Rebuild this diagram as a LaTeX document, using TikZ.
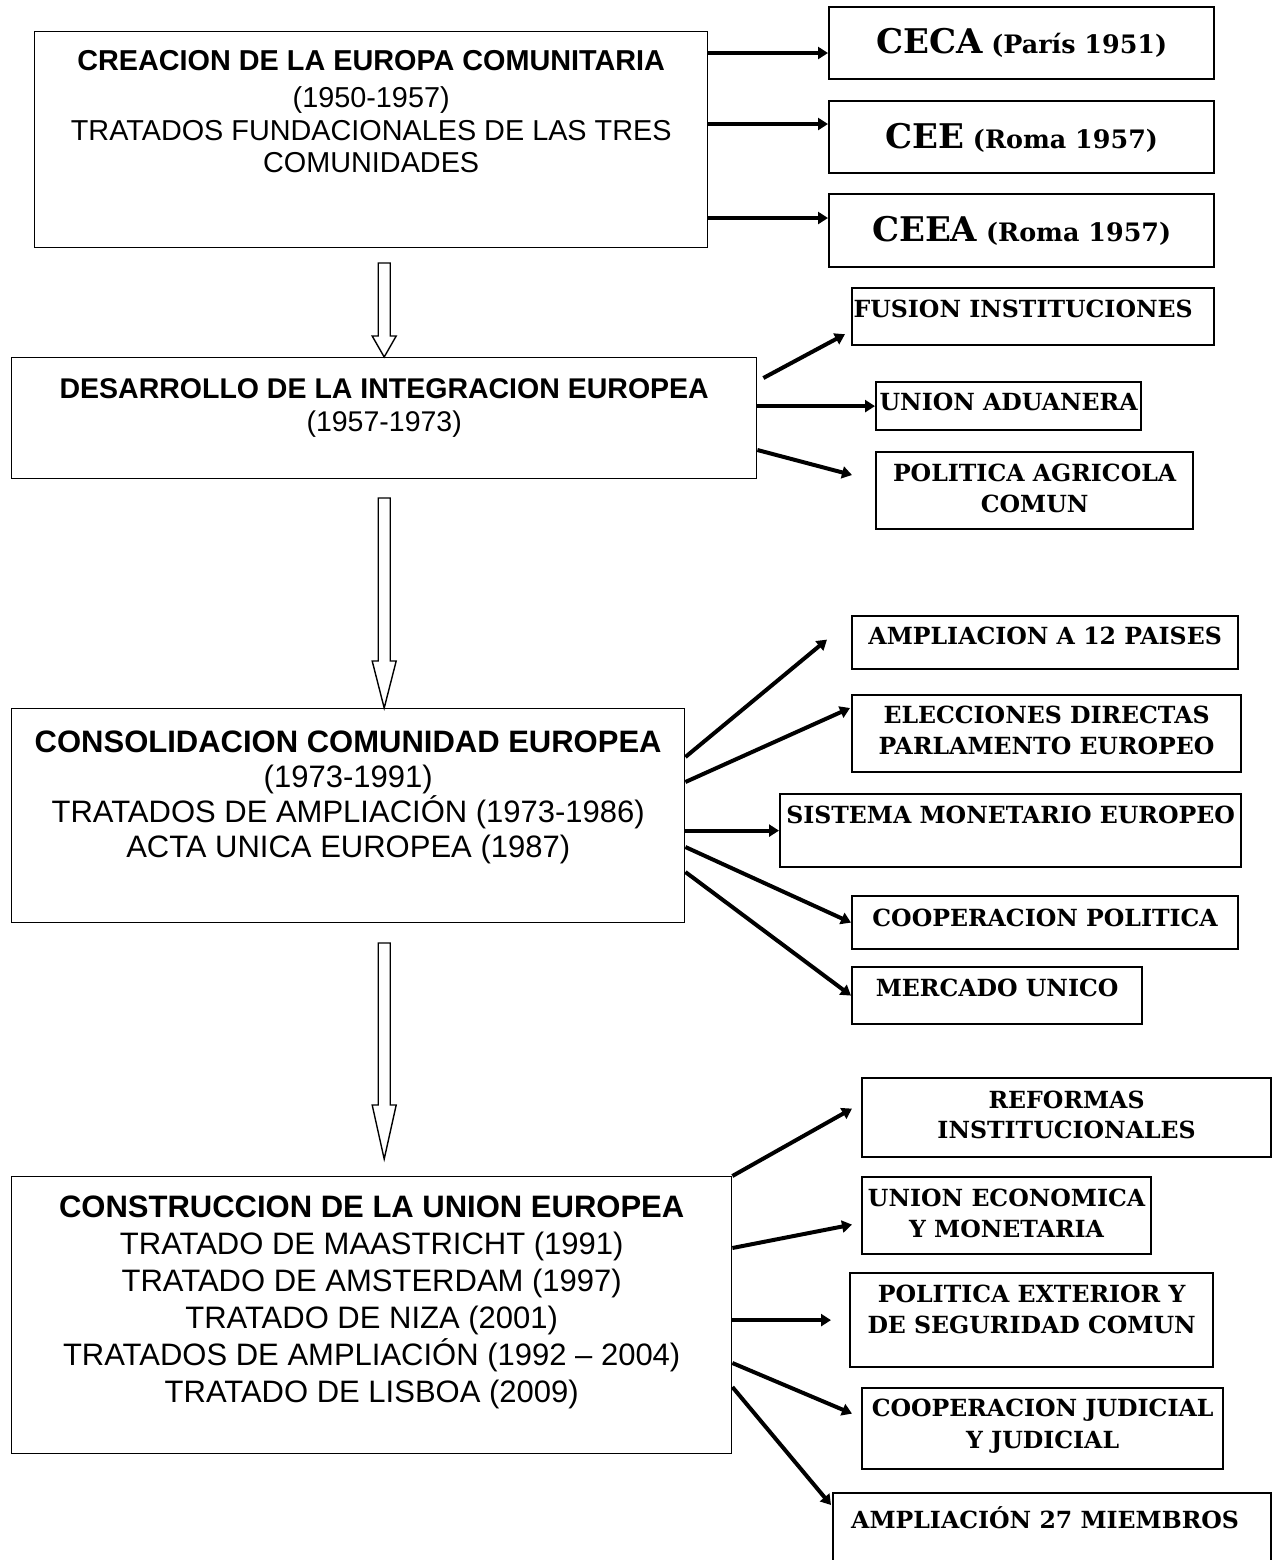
\documentclass[tikz,border=0pt]{standalone}
\usepackage{fontspec}
\setmainfont{DejaVu Serif}
\setsansfont{Liberation Sans}
\usetikzlibrary{arrows.meta,calc,positioning}
\tikzset{caja/.style={draw,line width=0.7pt,inner sep=0pt,anchor=north west},
         etapa/.style={caja,font=\sffamily\fontsize{14.4}{16.2}\selectfont},
         hito/.style={caja,line width=1.1pt,font=\bfseries\fontsize{11.8}{15.5}\selectfont},
         flecha/.style={line width=2pt,-{Triangle[length=5pt,width=6pt]}},
         bloque/.style={line width=0.7pt,fill=white}}
% ancho, alto, linea base de la primera fila, texto
\newcommand{\cajatexto}[4]{\parbox[c][#2][t]{#1}{\lineskiplimit=-20pt\vspace*{\dimexpr #3-13pt\relax}\centering\rule{0pt}{13pt}#4}}
% punta, largo del cuerpo, largo de la punta
\newcommand{\flechavacia}[3]{\draw[bloque] ($(#1)+(-6,-#2-#3)$) -- ($(#1)+(-6,-#3)$) -- ($(#1)+(-12,-#3)$) -- (#1) -- ($(#1)+(12,-#3)$) -- ($(#1)+(6,-#3)$) -- ($(#1)+(6,-#2-#3)$) -- cycle;}

\begin{document}
\begin{tikzpicture}[x=0.5pt,y=-0.5pt]
            \useasboundingbox (0,0) rectangle (1280,1560);
            \fill[white] (0,0) rectangle (1280,1560);

            % etapas
            \node[etapa] (creacion) at (34,31) {\cajatexto{336.5pt}{108pt}{19.5pt}{\textbf{CREACION DE LA EUROPA COMUNITARIA}\\[2.3pt] (1950-1957)\\ TRATADOS FUNDACIONALES DE LAS TRES\\ COMUNIDADES}};
            \node[etapa,font=\sffamily\fontsize{14.25}{16.5}\selectfont] (desarrollo) at (11,357) {\cajatexto{372.5pt}{60.5pt}{20.5pt}{\textbf{DESARROLLO DE LA INTEGRACION EUROPEA}\\ (1957-1973)}};
            \node[etapa,font=\sffamily\fontsize{15.5}{17.5}\selectfont] (consolidacion) at (11,708) {\cajatexto{336.5pt}{107pt}{22pt}{\textbf{CONSOLIDACION COMUNIDAD EUROPEA}\\ (1973-1991)\\ TRATADOS DE AMPLIACIÓN (1973-1986)\\ ACTA UNICA EUROPEA (1987)}};
            \node[etapa,font=\sffamily\fontsize{15.5}{18.5}\selectfont] (construccion) at (11,1176) {\cajatexto{360pt}{138.5pt}{20.5pt}{\textbf{CONSTRUCCION DE LA UNION EUROPEA}\\ TRATADO DE MAASTRICHT (1991)\\ TRATADO DE AMSTERDAM (1997)\\ TRATADO DE NIZA (2001)\\ TRATADOS DE AMPLIACIÓN (1992 – 2004)\\ TRATADO DE LISBOA (2009)}};

            % hitos
            \node[hito,font=\bfseries\fontsize{12.7}{15}\selectfont] (ceca) at (828,6) {\cajatexto{192.5pt}{36pt}{23pt}{{\fontsize{17}{18}\selectfont CECA} (París 1951)}};
            \node[hito,font=\bfseries\fontsize{12.7}{15}\selectfont] (cee) at (828,100) {\cajatexto{192.5pt}{36pt}{23.5pt}{{\fontsize{17}{18}\selectfont CEE} (Roma 1957)}};
            \node[hito,font=\bfseries\fontsize{12.7}{15}\selectfont] (ceea) at (828,193) {\cajatexto{192.5pt}{36.5pt}{23.5pt}{{\fontsize{17}{18}\selectfont CEEA} (Roma 1957)}};
            \node[hito] (fusion) at (851,287) {\cajatexto{181pt}{28.5pt}{14.5pt}{FUSION INSTITUCIONES\hspace*{10pt}}};
            \node[hito] (aduana) at (875,381) {\cajatexto{132.5pt}{24pt}{14pt}{UNION ADUANERA}};
            \node[hito] (pac) at (875,451) {\cajatexto{158.5pt}{38.5pt}{14.5pt}{POLITICA AGRICOLA\\ COMUN}};
            \node[hito] (ampl12) at (851,615) {\cajatexto{193pt}{26.5pt}{14pt}{AMPLIACION A 12 PAISES}};
            \node[hito] (elecc) at (851,694) {\cajatexto{194.5pt}{38.5pt}{14pt}{ELECCIONES DIRECTAS\\ PARLAMENTO EUROPEO}};
            \node[hito] (sme) at (779,793) {\cajatexto{230.5pt}{36.5pt}{14.5pt}{SISTEMA MONETARIO EUROPEO}};
            \node[hito] (coop) at (851,895) {\cajatexto{193pt}{26.5pt}{15pt}{COOPERACION POLITICA}};
            \node[hito] (mercado) at (851,966) {\cajatexto{145pt}{28.5pt}{14.5pt}{MERCADO UNICO}};
            \node[hito,font=\bfseries\fontsize{11.8}{15}\selectfont] (reformas) at (861,1077) {\cajatexto{204.5pt}{39.5pt}{15pt}{REFORMAS\\ INSTITUCIONALES}};
            \node[hito] (uem) at (861,1176) {\cajatexto{144.5pt}{38.5pt}{14.5pt}{UNION ECONOMICA\\ Y MONETARIA}};
            \node[hito] (pesc) at (849,1272) {\cajatexto{181.5pt}{47pt}{14.5pt}{POLITICA EXTERIOR Y\\ DE SEGURIDAD COMUN}};
            \node[hito,font=\bfseries\fontsize{11.8}{16}\selectfont] (judicial) at (861,1387) {\cajatexto{180.5pt}{40.5pt}{14pt}{COOPERACION JUDICIAL\\ Y JUDICIAL}};
            \node[hito] (ampl27) at (832,1492) {\cajatexto{219pt}{35pt}{17.5pt}{AMPLIACIÓN 27 MIEMBROS\hspace*{7pt}}};

            % flechas entre etapas
            \coordinate (punta1) at (desarrollo.north);
            \coordinate (punta2) at (desarrollo.north |- consolidacion.north);
            \coordinate (punta3) at ($(desarrollo.north |- construccion.north)+(0,-17)$);
            \flechavacia{punta1}{73}{21}
            \flechavacia{punta2}{163}{47}
            \flechavacia{punta3}{162}{54}

            % flechas hacia los hitos
            \draw[flecha] (creacion.east |- 0,53) -- (ceca.west |- 0,53);
            \draw[flecha] (creacion.east |- 0,124) -- (cee.west |- 0,124);
            \draw[flecha] (creacion.east |- 0,218) -- (ceea.west |- 0,218);
            \draw[flecha] ($(desarrollo.north east)+(6,21)$) -- ($(fusion.south west)+(-6,-12)$);
            \draw[flecha] (desarrollo.east |- aduana.west) -- (aduana.west);
            \draw[flecha] (desarrollo.east |- 0,450) -- ($(pac.north west)+(-23,24)$);
            \draw[flecha] (consolidacion.east |- 0,757) -- ($(ampl12.west)+(-24,-3)$);
            \draw[flecha] (consolidacion.east |- 0,782) -- ($(elecc.north west)+(-1,14)$);
            \draw[flecha] (consolidacion.east |- sme.west) -- (sme.west);
            \draw[flecha] (consolidacion.east |- 0,847) -- (coop.west);
            \draw[flecha] (consolidacion.east |- 0,872) -- (mercado.west);
            \draw[flecha] (construccion.north east) -- ($(reformas.west)+(-9,-9)$);
            \draw[flecha] (construccion.east |- 0,1248) -- ($(uem.west)+(-9,9)$);
            \draw[flecha] (construccion.east |- pesc.west) -- ($(pesc.west)+(-18,0)$);
            \draw[flecha] (construccion.east |- 0,1363) -- ($(judicial.west)+(-9,-15)$);
            \draw[flecha] (construccion.east |- 0,1387) -- ($(ampl27.north west)+(-1,13)$);
\end{tikzpicture}
\end{document}
